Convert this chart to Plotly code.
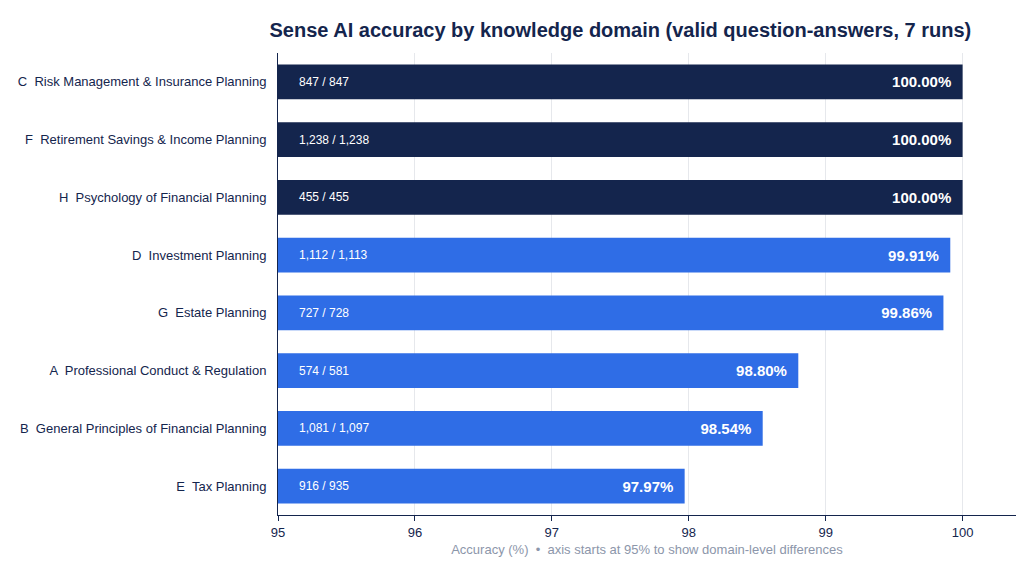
import plotly.graph_objects as go

# domains listed top to bottom
domains = [
    "C  Risk Management & Insurance Planning",
    "F  Retirement Savings & Income Planning",
    "H  Psychology of Financial Planning",
    "D  Investment Planning",
    "G  Estate Planning",
    "A  Professional Conduct & Regulation",
    "B  General Principles of Financial Planning",
    "E  Tax Planning",
]
accuracy = [100.00, 100.00, 100.00, 99.91, 99.86, 98.80, 98.54, 97.97]
counts = ["847 / 847", "1,238 / 1,238", "455 / 455", "1,112 / 1,113",
          "727 / 728", "574 / 581", "1,081 / 1,097", "916 / 935"]

navy = "#14254d"
blue = "#2f6de6"
colors = [navy if a >= 100 else blue for a in accuracy]

fig = go.Figure()
fig.add_trace(go.Bar(
    y=domains, x=accuracy, orientation="h",
    marker=dict(color=colors, line=dict(width=0)),
    text=[f"{a:.2f}%  " for a in accuracy],
    textposition="inside", insidetextanchor="end",
    textfont=dict(color="white", size=15, family="Liberation Sans", weight="bold"),
    width=0.6, hoverinfo="skip",
))

for d, c in zip(domains, counts):
    fig.add_annotation(x=95.14, y=d, text=c, showarrow=False, xanchor="left",
                       font=dict(color="white", size=12, family="Liberation Sans"))

fig.update_layout(
    width=1024, height=562,
    margin=dict(l=270, r=16, t=45, b=55),
    plot_bgcolor="white", paper_bgcolor="white",
    showlegend=False,
    font=dict(family="Liberation Sans", color=navy),
    title=dict(text="<b>Sense AI accuracy by knowledge domain (valid question-answers, 7 runs)</b>",
               x=0.598, xanchor="center", y=0.96, yanchor="middle",
               font=dict(size=20, color=navy)),
)
fig.update_xaxes(range=[95, 100.39], tickvals=[95, 96, 97, 98, 99, 100],
                 automargin=False,
                 showgrid=True, gridcolor="#e6e8ec", zeroline=False,
                 showline=True, linecolor=navy, ticks="outside", ticklen=5,
                 tickcolor=navy, tickfont=dict(size=13, color=navy),
                 title=dict(text="Accuracy (%)  •  axis starts at 95% to show domain-level differences",
                            font=dict(size=13, color="#8c96aa"), standoff=6))
fig.update_yaxes(autorange="reversed", showline=True, linecolor=navy, automargin=False,
                 tickfont=dict(size=13, color=navy), ticks="", ticklabelstandoff=8)

fig.write_html("out.html")
